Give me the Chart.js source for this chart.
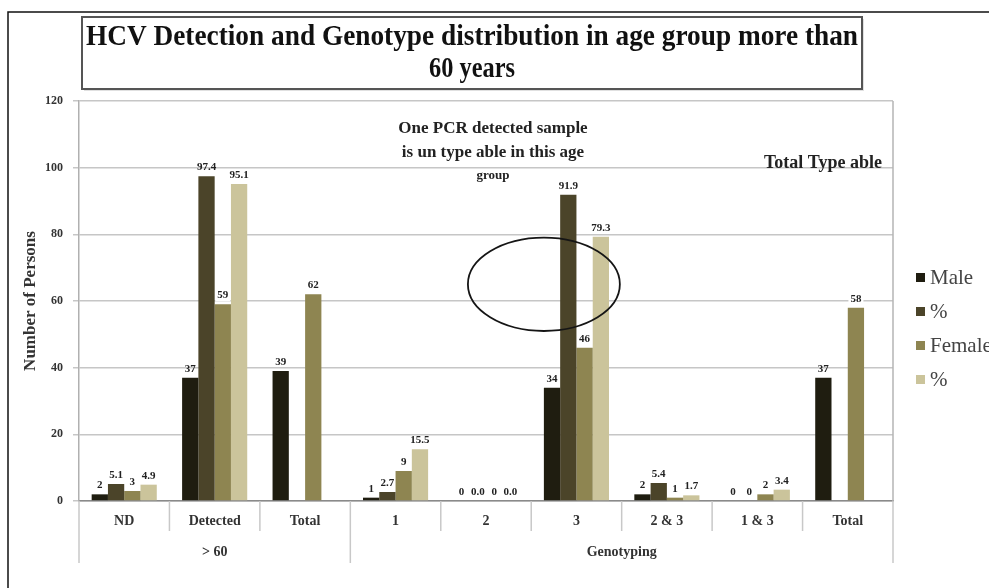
<!DOCTYPE html>
<html>
<head>
<meta charset="utf-8">
<title>HCV Detection and Genotype distribution</title>
<script src="https://cdn.jsdelivr.net/npm/chart.js@4.4.1/dist/chart.umd.min.js"></script>
<style>
  html, body { margin: 0; padding: 0; background: #ffffff; }
  #wrap { position: relative; width: 989px; height: 588px; }
</style>
</head>
<body>
<div id="wrap"><canvas id="c" width="989" height="588"></canvas></div>
<script>
// ---- data ----
const categories = ['ND', 'Detected', 'Total', '1', '2', '3', '2 & 3', '1 & 3', 'Total'];
const groupLabels = ['> 60', 'Genotyping'];
const groupSizes = [3, 6];
const maleCounts = [2, 37, 39, 1, 0, 34, 2, 0, 37];
const malePercent = ['5.1', '97.4', null, '2.7', '0.0', '91.9', '5.4', '0', null];
const femaleCounts = [3, 59, 62, 9, 0, 46, 1, 2, 58];
const femalePercent = ['4.9', '95.1', null, '15.5', '0.0', '79.3', '1.7', '3.4', null];
const seriesNames = ['Male', '%', 'Female', '%'];
const yTicks = [0, 20, 40, 60, 80, 100, 120];

const titleLines = ['HCV Detection and Genotype distribution in age group more than', '60 years'];
const noteLines = ['One PCR detected sample', 'is un type able in this age', 'group'];
const totalNote = 'Total Type able';

const SERIF = "'Liberation Serif', 'Times New Roman', serif";
const colors = ['#1f1d10', '#4b4429', '#8e8551', '#cbc49b'];

// text drawn condensed to a maximum width
function fitText(ctx, text, x, y, maxW) {
  const w = ctx.measureText(text).width;
  if (w > maxW) {
    ctx.save();
    ctx.translate(x, y);
    ctx.scale(maxW / w, 1);
    ctx.fillText(text, 0, 0);
    ctx.restore();
  } else {
    ctx.fillText(text, x, y);
  }
}

const decor = {
  id: 'decor',
  beforeDraw(chart) {
    const ctx = chart.ctx;
    ctx.save();
    ctx.fillStyle = '#ffffff';
    ctx.fillRect(0, 0, chart.width, chart.height);
    // outer frame
    ctx.strokeStyle = '#111';
    ctx.lineWidth = 1.5;
    ctx.beginPath();
    ctx.moveTo(8, chart.height);
    ctx.lineTo(8, 12);
    ctx.lineTo(chart.width, 12);
    ctx.stroke();
    // title box
    ctx.fillStyle = 'rgba(0,0,0,0.12)';
    ctx.fillRect(84, 19, 780, 72);
    ctx.fillStyle = '#fff';
    ctx.fillRect(82, 17, 780, 72);
    ctx.strokeStyle = '#555';
    ctx.lineWidth = 2;
    ctx.strokeRect(82, 17, 780, 72);
    ctx.fillStyle = '#111';
    ctx.font = 'bold 29px ' + SERIF;
    ctx.textAlign = 'center';
    ctx.textBaseline = 'middle';
    fitText(ctx, titleLines[0], 472, 38, 772);
    ctx.font = 'bold 29px ' + SERIF;
    ctx.save();
    ctx.translate(472, 70);
    ctx.scale(0.84, 1);
    ctx.fillText(titleLines[1], 0, 0);
    ctx.restore();
    ctx.restore();
  },
  afterDraw(chart) {
    const ctx = chart.ctx;
    const area = chart.chartArea;
    const xs = chart.scales.x;
    const ys = chart.scales.y;
    const n = categories.length;
    const cw = (area.right - area.left) / n;
    ctx.save();

    // right edge of plot
    ctx.strokeStyle = '#b5b5b5';
    ctx.lineWidth = 1.5;
    ctx.beginPath();
    ctx.moveTo(area.right, area.top);
    ctx.lineTo(area.right, area.bottom);
    ctx.stroke();

    // category separators below the axis
    ctx.strokeStyle = '#c8c8c8';
    ctx.lineWidth = 1.5;
    const groupEdges = [0];
    groupSizes.reduce((acc, s) => { groupEdges.push(acc + s); return acc + s; }, 0);
    for (let i = 0; i <= n; i++) {
      const x = area.left + i * cw;
      const long = groupEdges.includes(i);
      ctx.beginPath();
      ctx.moveTo(x, area.bottom);
      ctx.lineTo(x, area.bottom + (long ? 62 : 30));
      ctx.stroke();
    }
    // group labels
    ctx.fillStyle = '#333';
    ctx.font = 'bold 14px ' + SERIF;
    ctx.textAlign = 'center';
    ctx.textBaseline = 'middle';
    groupLabels.forEach((g, k) => {
      const a = groupEdges[k], b = groupEdges[k + 1];
      const cx = (xs.getPixelForValue(a) + xs.getPixelForValue(b - 1)) / 2;
      ctx.fillText(g, cx, area.bottom + 51);
    });

    // highlight ellipse around genotype 3
    const ex = xs.getPixelForValue(5) - 0.36 * cw;
    const ey = ys.getPixelForValue(65);
    const ry = Math.abs(ys.getPixelForValue(65) - ys.getPixelForValue(79));
    ctx.strokeStyle = '#151515';
    ctx.lineWidth = 1.8;
    ctx.beginPath();
    ctx.ellipse(ex, ey, 0.84 * cw, ry, 0, 0, Math.PI * 2);
    ctx.stroke();

    // value labels
    ctx.font = 'bold 11px ' + SERIF;
    ctx.textBaseline = 'alphabetic';
    chart.data.datasets.forEach((ds, di) => {
      const meta = chart.getDatasetMeta(di);
      meta.data.forEach((el, i) => {
        const raw = ds.data[i];
        if (raw === null || raw === undefined) return;
        const txt = String(raw);
        const ty = el.y - 6;
        if (di === 2) {
          const w = ctx.measureText(txt).width;
          ctx.fillStyle = '#fff';
          ctx.fillRect(el.x - w / 2 - 2, ty - 10, w + 4, 13);
        }
        ctx.fillStyle = '#222';
        ctx.fillText(txt, el.x, ty);
      });
    });

    // note text
    ctx.fillStyle = '#222';
    ctx.textBaseline = 'middle';
    ctx.textAlign = 'center';
    const nx = xs.getPixelForValue(4) + 7;
    ctx.font = 'bold 17px ' + SERIF;
    fitText(ctx, noteLines[0], nx, ys.getPixelForValue(111.8), 202);
    fitText(ctx, noteLines[1], nx, ys.getPixelForValue(104.6), 198);
    ctx.font = 'bold 13px ' + SERIF;
    ctx.fillText(noteLines[2], nx, ys.getPixelForValue(97.5));

    ctx.font = 'bold 18px ' + SERIF;
    ctx.textAlign = 'right';
    fitText(ctx, totalNote, area.right - 11, ys.getPixelForValue(101.2), 137);

    // legend
    ctx.textAlign = 'left';
    ctx.font = '21px ' + SERIF;
    chart.data.datasets.forEach((ds, di) => {
      const y = 278 + di * 34;
      ctx.fillStyle = ds.backgroundColor;
      ctx.fillRect(916, y - 5, 9, 9);
      ctx.fillStyle = '#444';
      ctx.fillText(ds.label, 930, y);
    });

    ctx.restore();
  }
};

new Chart(document.getElementById('c'), {
  type: 'bar',
  data: {
    labels: categories,
    datasets: [
      { label: seriesNames[0], data: maleCounts, backgroundColor: colors[0] },
      { label: seriesNames[1], data: malePercent, backgroundColor: colors[1] },
      { label: seriesNames[2], data: femaleCounts, backgroundColor: colors[2] },
      { label: seriesNames[3], data: femalePercent, backgroundColor: colors[3] }
    ]
  },
  options: {
    responsive: false,
    animation: false,
    devicePixelRatio: 1,
    layout: { padding: { top: 101, right: 96, left: 0, bottom: 0 } },
    datasets: { bar: { categoryPercentage: 0.72, barPercentage: 1.0 } },
    plugins: {
      legend: { display: false },
      title: { display: false },
      tooltip: { enabled: false }
    },
    scales: {
      x: {
        afterFit: s => { s.height = 87; },
        grid: { display: false, drawTicks: false },
        border: { display: true, color: '#8a8a8a', width: 1.5 },
        ticks: { color: '#333', font: { family: SERIF, size: 14, weight: 'bold' }, padding: 12, maxRotation: 0 }
      },
      y: {
        min: 0,
        max: yTicks[yTicks.length - 1],
        afterFit: s => { s.width = 79; },
        afterBuildTicks: s => { s.ticks = yTicks.map(v => ({ value: v })); },
        grid: { color: '#c6c6c6', lineWidth: 1.5, tickLength: 6 },
        border: { display: true, color: '#b0b0b0', width: 1.5 },
        ticks: { color: '#333', font: { family: SERIF, size: 12, weight: 'bold' }, padding: 10 },
        title: {
          display: true,
          text: 'Number of Persons',
          color: '#333',
          font: { family: SERIF, size: 17, weight: 'bold' },
          padding: { top: 20, bottom: 0 }
        }
      }
    }
  },
  plugins: [decor]
});
</script>
</body>
</html>
